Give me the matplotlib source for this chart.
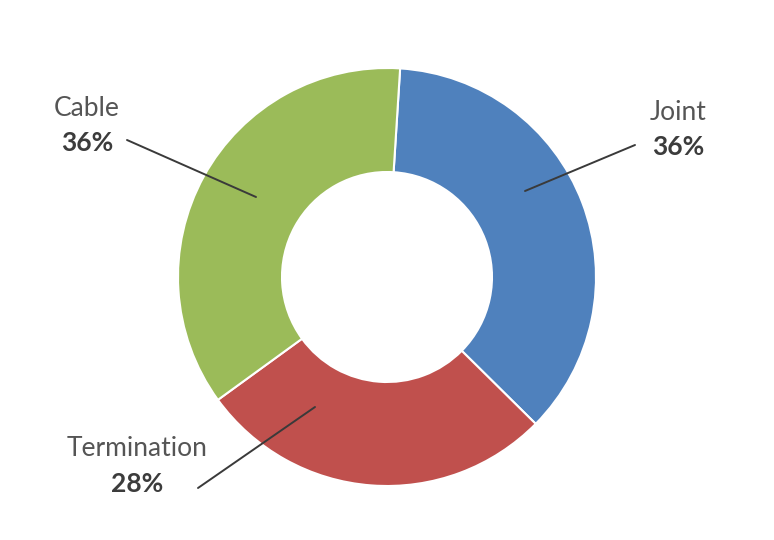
import numpy as np
import matplotlib.pyplot as plt

plt.rcParams['font.family'] = ['Lato', 'DejaVu Sans']

# data (shares, shown rounded)
labels = ['Joint', 'Termination', 'Cable']
shares = [36.4, 27.6, 36.0]
colors = ['#4F81BD', '#C0504D', '#9BBB59']

# label placement (pixels, y from top) and where the leader line touches the ring
text_pos = [(678, 112), (137, 449), (87, 108)]
line_start = [(635, 145), (198, 488), (127, 140)]
line_end = [(525, 191), (315, 407), (256, 197)]

W, H = 774, 540
fig = plt.figure(figsize=(W / 100, H / 100), dpi=100)
ax = fig.add_axes([0, 0, 1, 1])

ax.pie(shares, colors=colors, startangle=86.4, counterclock=False,
       center=(387, H - 277), radius=209,
       wedgeprops=dict(width=104, edgecolor='white', linewidth=1.5))

for name, val, (tx, ty), (sx, sy), (ex, ey) in zip(labels, shares, text_pos, line_start, line_end):
    ax.plot([sx, ex], [H - sy, H - ey], color='#3a3a3a', lw=1.4, solid_capstyle='round')
    ax.text(tx, H - ty, name, ha='center', va='center', fontsize=19, color='#555555')
    ax.text(tx, H - ty - 35, f'{round(val)}%', ha='center', va='center', fontsize=19,
            fontweight='bold', color='#3c3c3c')

ax.set_xlim(0, W)
ax.set_ylim(0, H)
ax.set_aspect('equal')
ax.axis('off')

fig.savefig('out.png', dpi=100)
